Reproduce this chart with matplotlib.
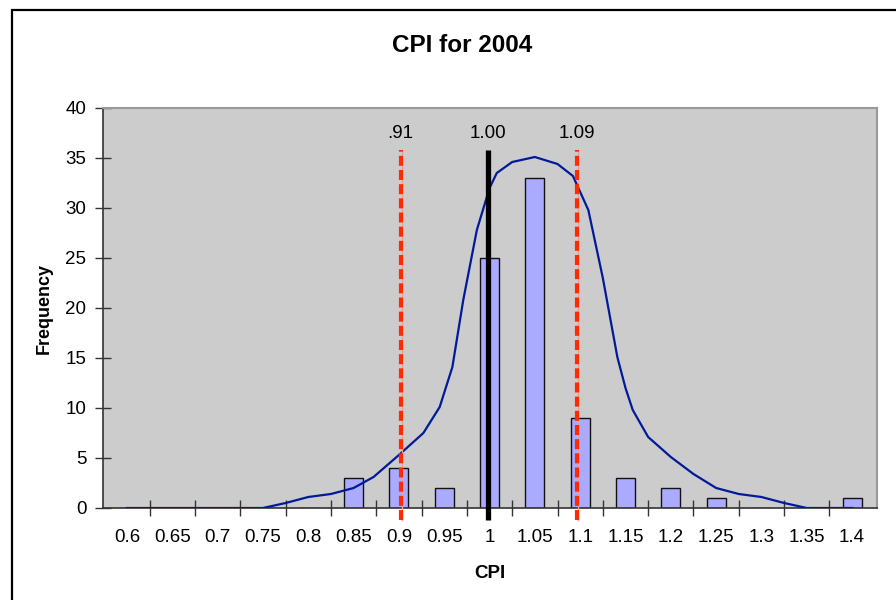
import numpy as np
import matplotlib
matplotlib.use('Agg')
import matplotlib.pyplot as plt
from matplotlib.patches import Rectangle

plt.rcParams['font.family'] = ['Liberation Sans', 'DejaVu Sans']

# histogram bins and counts
cpi_bins = [0.6, 0.65, 0.7, 0.75, 0.8, 0.85, 0.9, 0.95, 1.0, 1.05,
            1.1, 1.15, 1.2, 1.25, 1.3, 1.35, 1.4]
bin_labels = ['0.6', '0.65', '0.7', '0.75', '0.8', '0.85', '0.9', '0.95', '1',
              '1.05', '1.1', '1.15', '1.2', '1.25', '1.3', '1.35', '1.4']
frequency = [0, 0, 0, 0, 0, 3, 4, 2, 25, 33, 9, 3, 2, 1, 0, 0, 1]

# smoothed distribution curve
curve_x = [0.600, 0.750, 0.775, 0.800, 0.825, 0.850, 0.872, 0.900, 0.927,
           0.945, 0.959, 0.971, 0.986, 1.000, 1.008, 1.025, 1.050, 1.075,
           1.092, 1.109, 1.125, 1.141, 1.150, 1.158, 1.175, 1.200, 1.225,
           1.250, 1.275, 1.300, 1.325, 1.350, 1.400]
curve_y = [0, 0, 0.5, 1.1, 1.4, 2.0, 3.1, 5.3, 7.5,
           10.1, 14.1, 20.8, 27.8, 32.0, 33.5, 34.6, 35.1, 34.4,
           33.2, 29.8, 23.0, 15.1, 12.0, 9.8, 7.1, 5.1, 3.4,
           2.0, 1.4, 1.1, 0.5, 0, 0]

# marker lines
marker_pos = [0.902, 0.998, 1.096]
marker_text = ['.91', '1.00', '1.09']
marker_color = ['#ff2a00', 'black', '#ff2a00']

fig = plt.figure(figsize=(8.96, 6), dpi=100)
ax = fig.add_axes([103 / 896, 1 - 508 / 600, 774 / 896, 400 / 600])

# chart area border
fig.patches.append(Rectangle((12 / 896, -0.1), 1.2, 1 - 10 / 600 + 0.1,
                             transform=fig.transFigure, fill=False,
                             edgecolor='black', linewidth=1.6))

ax.set_facecolor('#cccccc')
ax.bar(cpi_bins, frequency, width=0.021, color='#aaaaff',
       edgecolor='#111111', linewidth=1.0, zorder=2)
ax.plot(curve_x, curve_y, color='#001a99', linewidth=1.6, zorder=3)

for pos, txt, col in zip(marker_pos, marker_text, marker_color):
    if col == 'black':
        ax.plot([pos, pos], [-1.2, 35.8], color='black', linewidth=3.8,
                solid_capstyle='butt', clip_on=False, zorder=4)
    else:
        ax.plot([pos + 0.0015, pos + 0.0015], [-1.2, 35.8], color='#e8a0a0',
                linewidth=1.0, clip_on=False, zorder=4)
        ax.plot([pos, pos], [-1.2, 35.8], color=col, linewidth=3.0,
                linestyle=(0, (2.4, 1.0)), dash_capstyle='butt',
                clip_on=False, zorder=5)
    ax.text(pos, 37.5, txt, ha='center', va='center', fontsize=13.5)

ax.set_xlim(0.5735, 1.4275)
ax.set_ylim(0, 40)
ax.set_yticks(range(0, 41, 5))
ax.set_xticks(cpi_bins)
ax.set_xticklabels(bin_labels)
ax.set_xticks(np.array(cpi_bins[:-1]) + 0.025, minor=True)
ax.tick_params(axis='x', which='major', length=0, pad=15, labelsize=13.5)
ax.tick_params(axis='x', which='minor', direction='inout', length=12,
               width=1, color='#333333')
ax.tick_params(axis='y', direction='inout', length=12, width=1,
               color='#333333', labelsize=13.5, pad=6)

for side in ['top', 'right']:
    ax.spines[side].set_color('#999999')
    ax.spines[side].set_linewidth(1.5)
for side in ['left', 'bottom']:
    ax.spines[side].set_color('#333333')
    ax.spines[side].set_linewidth(1.2)

ax.set_xlabel('CPI', fontsize=13.5, fontweight='bold', va='center')
ax.xaxis.set_label_coords(0.5, (508 - 573) / 400)
ax.set_ylabel('Frequency', fontsize=13, fontweight='bold', va='center')
ax.yaxis.set_label_coords((44 - 103) / 774, 0.5)
fig.text(462 / 896, 1 - 45 / 600, 'CPI for 2004', ha='center', va='center',
         fontsize=17.5, fontweight='bold')

fig.savefig('out.png', dpi=100)
